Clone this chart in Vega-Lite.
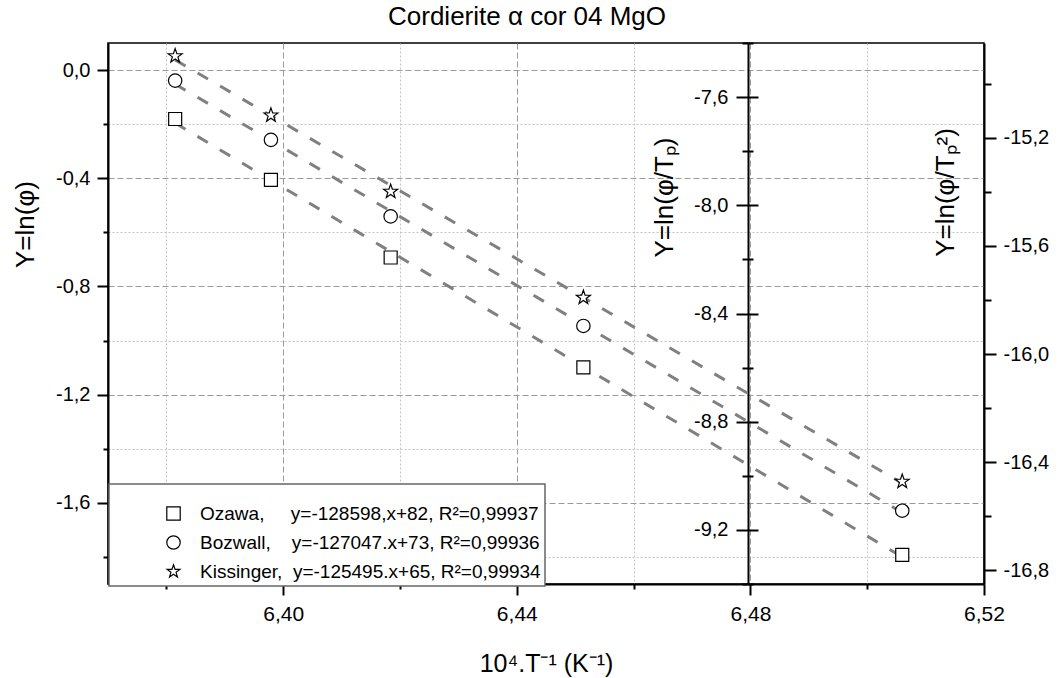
{
  "$schema": "https://vega.github.io/schema/vega-lite/v6.json",
  "width": 876,
  "height": 541,
  "autosize": {"type": "none"},
  "padding": {"left": 108, "top": 43, "right": 74, "bottom": 94},
  "title": {"text": "Cordierite α cor 04 MgO", "fontSize": 26, "font": "Liberation Sans", "fontWeight": "normal", "color": "black", "anchor": "middle", "frame": "group", "dx": -19, "dy": 33, "offset": 15, "baseline": "alphabetic"},
  "datasets": {
    "ozawa": [
      {"x": 6.3815, "y": -0.181, "series": "Ozawa"},
      {"x": 6.3979, "y": -0.406, "series": "Ozawa"},
      {"x": 6.4184, "y": -0.693, "series": "Ozawa"},
      {"x": 6.4514, "y": -1.0995, "series": "Ozawa"},
      {"x": 6.506, "y": -1.7925, "series": "Ozawa"}
    ],
    "bozwall": [
      {"x": 6.3815, "y": -7.539, "series": "Bozwall"},
      {"x": 6.3979, "y": -7.758, "series": "Bozwall"},
      {"x": 6.4184, "y": -8.041, "series": "Bozwall"},
      {"x": 6.4514, "y": -8.446, "series": "Bozwall"},
      {"x": 6.506, "y": -9.129, "series": "Bozwall"}
    ],
    "kissinger": [
      {"x": 6.3815, "y": -14.898, "series": "Kissinger"},
      {"x": 6.3979, "y": -15.117, "series": "Kissinger"},
      {"x": 6.4184, "y": -15.399, "series": "Kissinger"},
      {"x": 6.4514, "y": -15.791, "series": "Kissinger"},
      {"x": 6.506, "y": -16.471, "series": "Kissinger"}
    ],
    "ozawaFit": [
      {"x": 6.3815, "y": -0.196, "series": "Ozawa"},
      {"x": 6.506, "y": -1.800, "series": "Ozawa"}
    ],
    "bozwallFit": [
      {"x": 6.3815, "y": -7.552, "series": "Bozwall"},
      {"x": 6.506, "y": -9.136, "series": "Bozwall"}
    ],
    "kissingerFit": [
      {"x": 6.3815, "y": -14.9125, "series": "Kissinger"},
      {"x": 6.506, "y": -16.4775, "series": "Kissinger"}
    ]
  },
  "layer": [
    {
      "layer": [
        {
          "data": {"name": "ozawaFit"},
          "mark": {"type": "line", "color": "#808080", "strokeWidth": 3, "strokeDash": [12, 14], "strokeCap": "butt"},
          "encoding": {
            "x": {"field": "x", "type": "quantitative", "scale": {"domain": [6.37, 6.52], "nice": false, "zero": false},
              "axis": {
                "values": [6.38, 6.40, 6.42, 6.44, 6.46, 6.48, 6.50, 6.52],
                "title": "10⁴.T⁻¹ (K⁻¹)",
                "titleBaseline": "alphabetic",
                "titleY": 87,
                "labelFontSize": 21,
                "labelPadding": 8,
                "labelExpr": "abs(datum.value/0.04 - round(datum.value/0.04)) < 0.01 ? replace(format(datum.value, '.2f'), '.', ',') : ''",
                "tickSize": {"condition": {"test": "abs(datum.value/0.04 - round(datum.value/0.04)) < 0.01", "value": 11}, "value": 5},
                "grid": true,
                "gridColor": {"condition": {"test": "abs(datum.value/0.04 - round(datum.value/0.04)) < 0.01", "value": "#9a9a9a"}, "value": "#c4c4c4"},
                "gridDash": {"condition": {"test": "abs(datum.value/0.04 - round(datum.value/0.04)) < 0.01", "value": [6, 3]}, "value": [2, 2]},
                "gridWidth": 1
              }
            },
            "y": {"field": "y", "type": "quantitative", "scale": {"domain": [-1.9, 0.1], "nice": false, "zero": false},
              "axis": {
                "orient": "left",
                "values": [0, -0.2, -0.4, -0.6, -0.8, -1.0, -1.2, -1.4, -1.6, -1.8],
                "title": "Y=ln(φ)",
                "titleFontSize": 26,
                "titleAngle": 270,
                "titleAlign": "center",
                "titleBaseline": "alphabetic",
                "titleX": -75,
                "titleY": 181,
                "labelPadding": 7,
                "labelExpr": "abs(datum.value/0.4 - round(datum.value/0.4)) < 0.01 ? (datum.value < -0.001 ? '-' : '') + replace(format(abs(datum.value), '.1f'), '.', ',') : ''",
                "tickSize": {"condition": {"test": "abs(datum.value/0.4 - round(datum.value/0.4)) < 0.01", "value": 11}, "value": 5},
                "grid": true,
                "gridColor": {"condition": {"test": "abs(datum.value/0.4 - round(datum.value/0.4)) < 0.01", "value": "#9a9a9a"}, "value": "#c4c4c4"},
                "gridDash": {"condition": {"test": "abs(datum.value/0.4 - round(datum.value/0.4)) < 0.01", "value": [6, 3]}, "value": [2, 2]},
                "gridWidth": 1
              }
            }
          }
        },
        {
          "data": {"name": "ozawa"},
          "mark": {"type": "point", "shape": "square", "filled": true, "color": "white", "size": 169, "opacity": 1},
          "encoding": {
            "x": {"field": "x", "type": "quantitative"},
            "y": {"field": "y", "type": "quantitative"}
          }
        },
        {
          "data": {"name": "ozawa"},
          "mark": {"type": "point", "filled": false, "color": "black", "strokeWidth": 1.2, "size": 169, "opacity": 1},
          "encoding": {
            "x": {"field": "x", "type": "quantitative"},
            "y": {"field": "y", "type": "quantitative"},
            "shape": {"field": "series", "type": "nominal",
              "scale": {"domain": ["Ozawa", "Bozwall", "Kissinger"], "range": ["square", "circle", "M0,-1L0.235,-0.324L0.951,-0.309L0.38,0.124L0.588,0.809L0,0.4L-0.588,0.809L-0.38,0.124L-0.951,-0.309L-0.235,-0.324Z"]},
              "legend": {
                "orient": "none", "legendX": 1, "legendY": 441,
                "title": " ", "titleFontSize": 6, "titlePadding": 10,
                "padding": 4, "symbolOffset": 51, "labelOffset": 17, "rowPadding": 9,
                "labelFontSize": 19, "labelLimit": 600,
                "labelExpr": "datum.label == 'Ozawa' ? 'Ozawa,\u00a0\u00a0\u00a0\u00a0\u00a0y=-128598,x+82, R²=0,99937' : datum.label == 'Bozwall' ? 'Bozwall,\u00a0\u00a0\u00a0\u00a0y=-127047.x+73, R²=0,99936' : 'Kissinger,\u00a0\u00a0y=-125495.x+65, R²=0,99934'",
                "strokeColor": "#666666", "fillColor": "white"
              }
            }
          }
        }
      ]
    },
    {
      "data": {"name": "bozwallFit"},
      "mark": {"type": "line", "color": "#808080", "strokeWidth": 3, "strokeDash": [12, 14], "strokeCap": "butt"},
      "encoding": {
        "x": {"field": "x", "type": "quantitative"},
        "y": {"field": "y", "type": "quantitative", "scale": {"domain": [-9.4, -7.4], "nice": false, "zero": false},
          "axis": {
            "orient": "left",
            "offset": -640,
            "values": [-7.4, -7.6, -7.8, -8.0, -8.2, -8.4, -8.6, -8.8, -9.0, -9.2, -9.4],
            "title": "Y=ln(φ/Tₚ)",
            "titleFontSize": 26,
            "titleAngle": 270,
            "titleAlign": "center",
            "titleBaseline": "alphabetic",
            "titleX": -76,
            "titleY": 154,
            "labelPadding": 8,
            "labelExpr": "abs(datum.value/0.4 - round(datum.value/0.4)) < 0.01 ? '-' + replace(format(abs(datum.value), '.1f'), '.', ',') : ''",
            "tickSize": {"condition": {"test": "abs(datum.value/0.4 - round(datum.value/0.4)) < 0.01", "value": 12}, "value": 6},
            "grid": false
          }
        }
      }
    },
    {
      "layer": [
        {
          "data": {"name": "bozwall"},
          "mark": {"type": "point", "shape": "circle", "filled": true, "color": "white", "size": 180, "opacity": 1},
          "encoding": {
            "x": {"field": "x", "type": "quantitative"},
            "y": {"field": "y", "type": "quantitative", "scale": {"domain": [-9.4, -7.4], "nice": false, "zero": false},
              "axis": {
                "orient": "right",
                "offset": -236,
                "values": [-7.4, -7.6, -7.8, -8.0, -8.2, -8.4, -8.6, -8.8, -9.0, -9.2, -9.4],
                "title": null,
                "labels": false,
                "domain": false,
                "tickSize": {"condition": {"test": "abs(datum.value/0.4 - round(datum.value/0.4)) < 0.01", "value": 10}, "value": 5},
                "grid": false
              }
            }
          }
        },
        {
          "data": {"name": "bozwall"},
          "mark": {"type": "point", "filled": false, "color": "black", "strokeWidth": 1.2, "size": 180, "opacity": 1},
          "encoding": {
            "x": {"field": "x", "type": "quantitative"},
            "y": {"field": "y", "type": "quantitative"},
            "shape": {"field": "series", "type": "nominal"}
          }
        }
      ]
    },
    {
      "layer": [
        {
          "data": {"name": "kissingerFit"},
          "mark": {"type": "line", "color": "#808080", "strokeWidth": 3, "strokeDash": [12, 14], "strokeCap": "butt"},
          "encoding": {
            "x": {"field": "x", "type": "quantitative"},
            "y": {"field": "y", "type": "quantitative", "scale": {"domain": [-16.85, -14.85], "nice": false, "zero": false},
              "axis": {
                "orient": "right",
                "values": [-15.0, -15.2, -15.4, -15.6, -15.8, -16.0, -16.2, -16.4, -16.6, -16.8],
                "title": "Y=ln(φ/Tₚ²)",
                "titleFontSize": 26,
                "titleAngle": 270,
                "titleAlign": "center",
                "titleBaseline": "alphabetic",
                "titleX": -31,
                "titleY": 149,
                "labelPadding": 7,
                "labelExpr": "abs(datum.value/0.4 - round(datum.value/0.4)) < 0.01 ? '-' + replace(format(abs(datum.value), '.1f'), '.', ',') : ''",
                "tickSize": {"condition": {"test": "abs(datum.value/0.4 - round(datum.value/0.4)) < 0.01", "value": 12}, "value": 7},
                "grid": false
              }
            }
          }
        },
        {
          "data": {"name": "kissinger"},
          "mark": {"type": "point", "shape": "M0,-1L0.235,-0.324L0.951,-0.309L0.38,0.124L0.588,0.809L0,0.4L-0.588,0.809L-0.38,0.124L-0.951,-0.309L-0.235,-0.324Z", "filled": true, "color": "white", "size": 216, "opacity": 1},
          "encoding": {
            "x": {"field": "x", "type": "quantitative"},
            "y": {"field": "y", "type": "quantitative"}
          }
        },
        {
          "data": {"name": "kissinger"},
          "mark": {"type": "point", "filled": false, "color": "black", "strokeWidth": 1.2, "size": 216, "opacity": 1},
          "encoding": {
            "x": {"field": "x", "type": "quantitative"},
            "y": {"field": "y", "type": "quantitative"},
            "shape": {"field": "series", "type": "nominal"}
          }
        }
      ]
    }
  ],
  "resolve": {"scale": {"y": "independent"}, "axis": {"y": "independent"}},
  "config": {
    "font": "Liberation Sans",
    "view": {"stroke": "black", "strokeWidth": 1.5},
    "axis": {
      "labelFont": "Liberation Sans", "labelColor": "black", "labelFontSize": 20,
      "titleFont": "Liberation Sans", "titleFontSize": 25, "titleFontWeight": "normal", "titleColor": "black",
      "domainColor": "black", "domainWidth": 2, "tickColor": "black", "tickWidth": 2,
      "labelOverlap": false, "labelFlush": false, "labelBound": false
    },
    "legend": {
      "labelFont": "Liberation Sans", "labelColor": "black",
      "strokeWidth": 1.5,
      "symbolSize": 180, "symbolStrokeColor": "black", "symbolStrokeWidth": 1.2
    }
  }
}
